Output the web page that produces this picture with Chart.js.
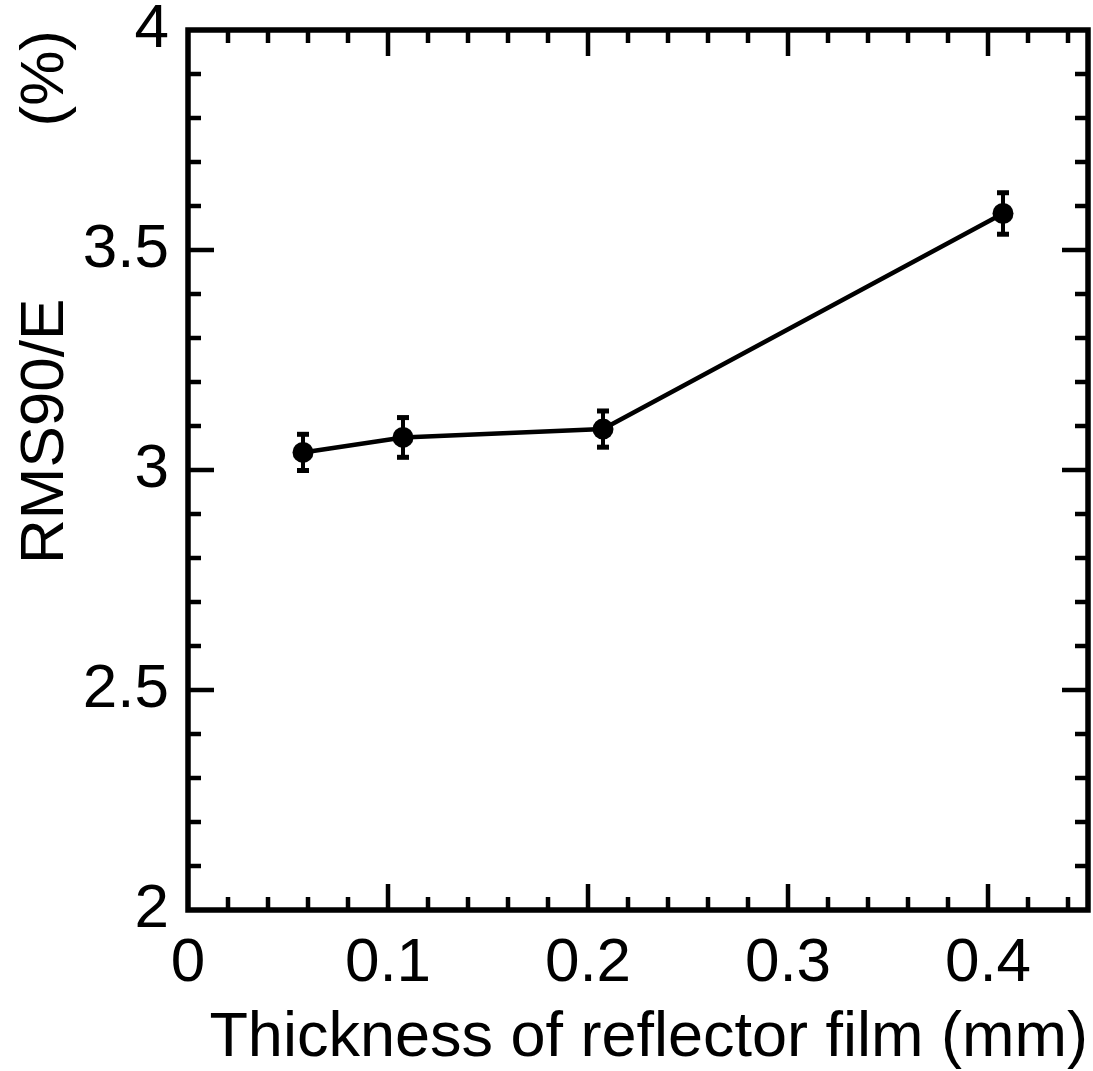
<!DOCTYPE html>
<html>
<head>
<meta charset="utf-8">
<script src="https://cdn.jsdelivr.net/npm/chart.js@4.4.1/dist/chart.umd.min.js"></script>
<style>
  body { margin: 0; background: #fff; }
  #wrap { width: 1093px; height: 1071px; }
</style>
</head>
<body>
<div id="wrap"><canvas id="chart" width="1093" height="1071"></canvas></div>
<script>
// data
const thickness = [0.0575, 0.1075, 0.2075, 0.4075];   // mm
const rms90 = [3.040, 3.074, 3.093, 3.583];           // %
const rmsErr = [0.040, 0.044, 0.040, 0.046];

// axis ticks
const xTicks = [0, 0.1, 0.2, 0.3, 0.4];
const yTicks = [2, 2.5, 3, 3.5, 4];
const xMinorStep = 0.02;
const yMinorStep = 0.1;

const FONT = "'Liberation Sans', Arial, Helvetica, sans-serif";

// frame with inward ticks on all four sides
const framePlugin = {
    id: 'frame',
    beforeDatasetsDraw(chart) {
        const ctx = chart.ctx;
        const a = chart.chartArea;
        const xs = chart.scales.x, ys = chart.scales.y;
        const majorLen = 26, minorLen = 13;
        ctx.save();
        ctx.strokeStyle = '#000';
        ctx.lineWidth = 4.5;
        ctx.lineCap = 'butt';
        ctx.beginPath();
        // x ticks (bottom + top)
        for (let v = xs.min; v <= xs.max + 1e-9; v += xMinorStep) {
            const px = Math.round(xs.getPixelForValue(v));
            if (px <= a.left + 2 || px >= a.right - 2) continue;
            const major = xTicks.some(t => Math.abs(t - v) < 1e-6);
            const len = major ? majorLen : minorLen;
            ctx.moveTo(px, a.bottom); ctx.lineTo(px, a.bottom - len);
            ctx.moveTo(px, a.top); ctx.lineTo(px, a.top + len);
        }
        // y ticks (left + right)
        for (let v = ys.min; v <= ys.max + 1e-9; v += yMinorStep) {
            const py = Math.round(ys.getPixelForValue(v));
            if (py <= a.top + 2 || py >= a.bottom - 2) continue;
            const major = yTicks.some(t => Math.abs(t - v) < 1e-6);
            const len = major ? majorLen : minorLen;
            ctx.moveTo(a.left, py); ctx.lineTo(a.left + len, py);
            ctx.moveTo(a.right, py); ctx.lineTo(a.right - len, py);
        }
        ctx.stroke();
        ctx.lineWidth = 5.5;
        ctx.strokeRect(a.left, a.top, a.right - a.left, a.bottom - a.top);
        ctx.restore();
    }
};

// vertical error bars with caps
const errorBarPlugin = {
    id: 'errorBars',
    afterDatasetsDraw(chart) {
        const ctx = chart.ctx;
        const xs = chart.scales.x, ys = chart.scales.y;
        ctx.save();
        ctx.strokeStyle = '#000';
        ctx.fillStyle = '#000';
        ctx.lineWidth = 4;
        thickness.forEach((t, i) => {
            const px = xs.getPixelForValue(t);
            const yHi = ys.getPixelForValue(rms90[i] + rmsErr[i]);
            const yLo = ys.getPixelForValue(rms90[i] - rmsErr[i]);
            ctx.beginPath();
            ctx.moveTo(px, yHi);
            ctx.lineTo(px, yLo);
            ctx.stroke();
            ctx.fillRect(px - 6, yHi - 3, 12, 5);
            ctx.fillRect(px - 6, yLo - 2, 12, 5);
        });
        ctx.restore();
    }
};

// drop the label overflow padding so the plot box sits where it should
function noOverflow(s) {
    s.paddingTop = 0; s.paddingBottom = 0;
    s.paddingLeft = 0; s.paddingRight = 0;
}

new Chart(document.getElementById('chart'), {
    type: 'line',
    data: {
        datasets: [{
            data: thickness.map((t, i) => ({ x: t, y: rms90[i] })),
            borderColor: '#000',
            backgroundColor: '#000',
            borderWidth: 4.5,
            pointRadius: 10.5,
            pointBackgroundColor: '#000',
            pointBorderWidth: 0,
            tension: 0,
            clip: false
        }]
    },
    options: {
        responsive: false,
        animation: false,
        layout: { autoPadding: false, padding: { top: 30, right: 5, left: 0, bottom: 0 } },
        plugins: { legend: { display: false }, tooltip: { enabled: false } },
        scales: {
            x: {
                type: 'linear',
                min: 0,
                max: 0.45,
                grid: { display: false },
                border: { display: false },
                afterBuildTicks: s => { s.ticks = xTicks.map(v => ({ value: v })); },
                afterFit: s => { s.height = 161; noOverflow(s); },
                ticks: {
                    color: '#000',
                    padding: 9,
                    maxRotation: 0,
                    font: { family: FONT, size: 62 },
                    callback: v => String(v)
                },
                title: {
                    display: true,
                    text: 'Thickness of reflector film (mm)',
                    color: '#000',
                    align: 'end',
                    padding: { top: 0, bottom: -5 },
                    font: { family: FONT, size: 63 }
                }
            },
            y: {
                type: 'linear',
                min: 2,
                max: 4,
                grid: { display: false },
                border: { display: false },
                afterBuildTicks: s => { s.ticks = yTicks.map(v => ({ value: v })); },
                afterFit: s => { s.width = 188; noOverflow(s); },
                ticks: {
                    color: '#000',
                    padding: 11,
                    font: { family: FONT, size: 62 },
                    callback: v => String(v)
                },
                title: {
                    display: true,
                    text: 'RMS90/E          (%)',
                    color: '#000',
                    align: 'end',
                    padding: { top: 9, bottom: 0 },
                    font: { family: FONT, size: 62 }
                }
            }
        }
    },
    plugins: [framePlugin, errorBarPlugin]
});
</script>
</body>
</html>
